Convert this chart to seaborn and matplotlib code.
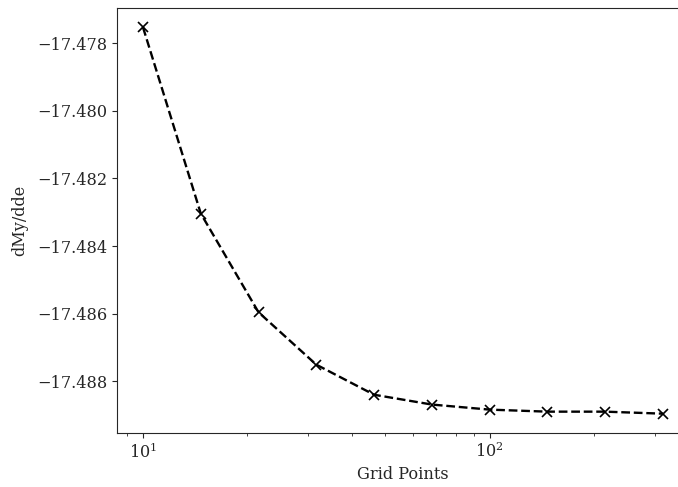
import numpy as np
import pandas as pd
import matplotlib
matplotlib.use("Agg")
import matplotlib.pyplot as plt
import seaborn as sns

# Dados
grid_points = [10.0, 14.68, 21.54, 31.62, 46.42, 68.13, 100.0, 146.8, 215.4, 316.2]
dmy_dde = [-17.47753, -17.48304, -17.48596, -17.48751, -17.48840,
           -17.48869, -17.48884, -17.48890, -17.48890, -17.48896]

df = pd.DataFrame({"Grid Points": grid_points, "dMy/dde": dmy_dde})

sns.set_style("ticks")
plt.rcParams['font.family'] = ['DejaVu Serif']
plt.rcParams['font.size'] = 11.6

fig = plt.figure(figsize=(6.78, 4.87), dpi=100)
ax = fig.add_axes([117 / 678, 54 / 487, 572 / 678, 425 / 487])

sns.lineplot(data=df, x="Grid Points", y="dMy/dde", ax=ax, color="black",
             linestyle="--", marker="x", markersize=7, markeredgecolor="black",
             markeredgewidth=1.2, linewidth=1.7)
ax.set_xscale("log")
ax.set_xlabel("Grid Points", labelpad=3)
ax.set_ylabel("dMy/dde", labelpad=6)
ax.set_yticks([-17.478, -17.480, -17.482, -17.484, -17.486, -17.488])
ax.set_yticklabels(["−17.478", "−17.480", "−17.482", "−17.484", "−17.486", "−17.488"])

fig.savefig("out.png", dpi=100)
